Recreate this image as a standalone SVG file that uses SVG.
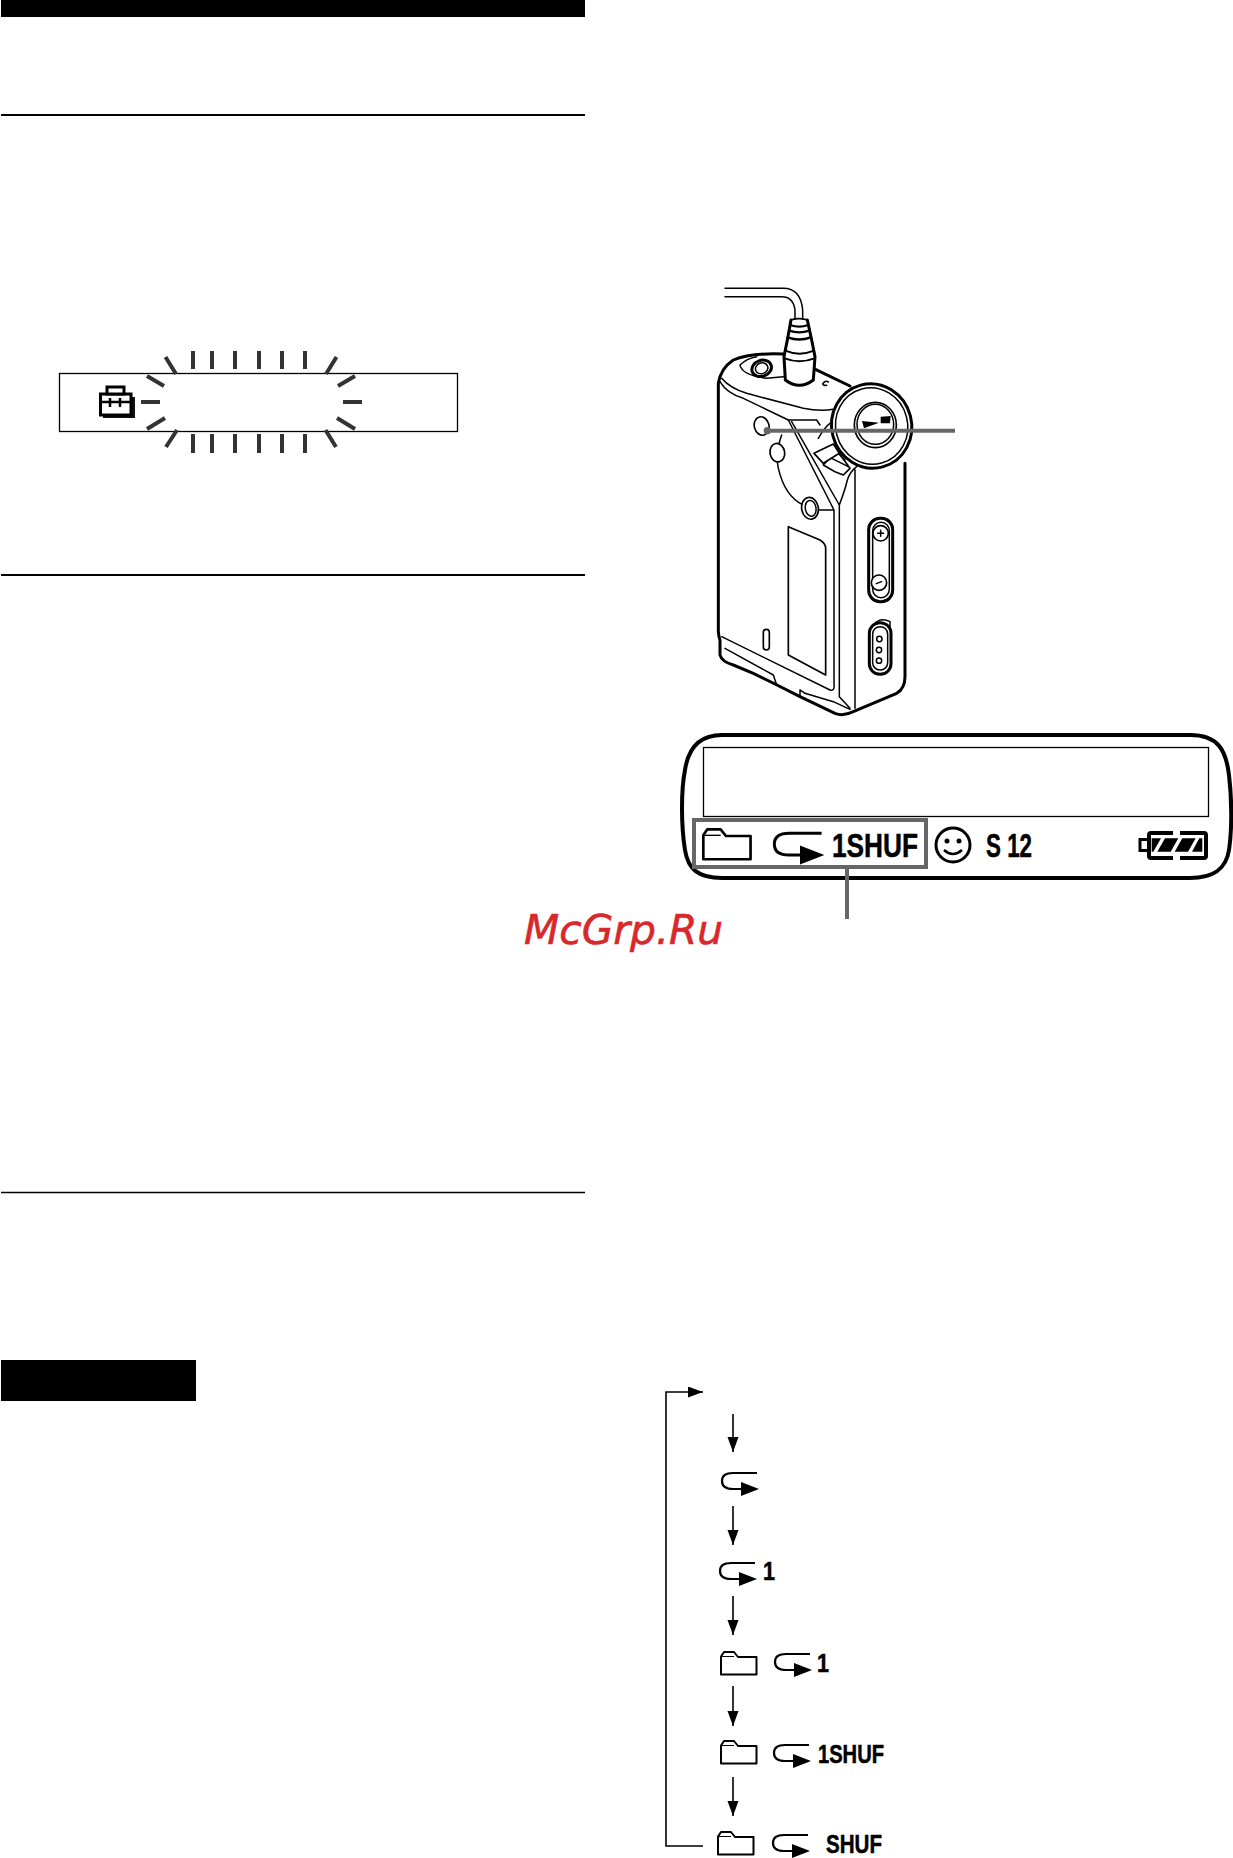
<svg xmlns="http://www.w3.org/2000/svg" xmlns:xlink="http://www.w3.org/1999/xlink" width="1233" height="1858" viewBox="0 0 1233 1858">
<style>
.bg{fill:#fff}
.k{fill:#000}
.thin{fill:none;stroke:#000;stroke-width:1.3}
.rule{stroke:#000;fill:none}
.tick{stroke:#333;stroke-width:4;fill:none}
.lead{stroke:#666;stroke-width:4;fill:none}
.d{fill:#fff;stroke:#000;stroke-width:5;stroke-linejoin:round;stroke-linecap:round}
.dl{fill:none;stroke:#000;stroke-width:4.500;stroke-linejoin:round;stroke-linecap:round}
.dh{fill:none;stroke:#000;stroke-width:9;stroke-linejoin:round;stroke-linecap:round}
.flow{fill:none;stroke:#000;stroke-width:1.6}
.t{font-family:"Liberation Sans",Arial,sans-serif;font-weight:700;fill:#000;stroke:#000;stroke-width:.5}
.wm{font-family:"DejaVu Sans",sans-serif;font-style:oblique;fill:#d8282c;stroke:#d8282c;stroke-width:.6;font-size:40.800px}
</style>
<defs>
<marker id="ah" markerUnits="userSpaceOnUse" markerWidth="16" markerHeight="12" refX="15" refY="5.500" orient="auto"><path d="M0 0L15 5.500L0 11Z" fill="#000"/></marker>
<g id="folder"><path d="M1 23.500V5.500L4 1H14L18 6H36.500V23.500Z" fill="#fff" stroke="#000" stroke-width="2" stroke-linejoin="round"/><path d="M1 5.500H14" fill="none" stroke="#000" stroke-width="1"/></g>
<g id="rep"><path d="M36 1H12Q1 1 1 9Q1 17 12 17H22" fill="none" stroke="#000" stroke-width="2.200"/><path d="M20 10L38 17L20 24Z" fill="#000"/></g>
</defs>
<rect class="bg" width="1233" height="1858"/>
<g id="page-rules">
<rect class="k" x="1" y="0" width="584" height="17"/>
<path class="rule" stroke-width="2" d="M1 115H585M1 575H585"/>
<path class="rule" stroke-width="1.300" d="M1 1192.500H585"/>
<rect class="k" x="1" y="1360" width="195" height="41"/>
</g>
<g id="toolbox-display">
<rect x="59.500" y="373.500" width="398" height="58" fill="#fff" stroke="#000" stroke-width="1.300"/>
<g id="toolbox-icon">
<rect x="103" y="397" width="32" height="21" fill="#111"/>
<rect x="100.500" y="394" width="30.500" height="21" fill="#fff" stroke="#000" stroke-width="3"/>
<rect x="107" y="387" width="17" height="7" fill="#fff" stroke="#000" stroke-width="3"/>
<path d="M100 402H131M110 398V407M120 398V407" fill="none" stroke="#000" stroke-width="2.500"/>
</g>
<path class="tick" d="M193 351V369M212 351V369M235 351V369M259 351V369M282 351V369M305 351V369M193 434V453M212 434V453M235 434V453M259 434V453M282 434V453M305 434V453M165.500 357L176 374M336.500 357L326 374M147 376L164 386M355 376L338 386M141 402H160M343 402H362M147 429L165 418M355 429L337 418M166 447L177 430M336 447L325.500 430"/>
</g>
<g id="player" transform="translate(680 260) scale(.33333)">
<path d="M115 370Q122 325 160 300Q210 278 310 282L400 325L510 378L675 620V1250Q675 1285 650 1300L520 1355Q490 1370 465 1360L360 1310L285 1270L220 1240L160 1215Q125 1205 120 1185L125 1130L115 1115Z" fill="#fff"/>
<path class="dh" d="M115 1115V370Q122 325 160 300Q210 278 310 282M400 325L510 378M675 610V1250Q675 1285 650 1300L520 1355Q490 1370 465 1360L360 1310L285 1272L220 1240L160 1215Q125 1205 120 1185V1140Q116 1130 115 1115"/>
<path class="dl" d="M125 355Q150 385 200 400L370 445Q420 455 460 448M120 365Q140 400 190 415L325 480H410L420 495"/>
<path class="dl" d="M180 315Q185 345 260 355L310 350M180 315Q200 295 230 290"/>
<ellipse class="dh" cx="245" cy="325" rx="30" ry="24" transform="rotate(-20 245 325)"/>
<ellipse class="dl" cx="245" cy="325" rx="19" ry="16" transform="rotate(-20 245 325)"/>
<path class="dl" d="M325 480L462 750M335 485L478 735Q495 690 502 660Q510 635 530 620M305 525Q285 580 295 625Q315 710 370 735M462 750H410M462 750V1270Q465 1295 450 1290L125 1130M478 735V1310L510 1345M525 630V1345M135 1165L280 1245L290 1275M360 1290V1310M360 1290L375 1300L460 1325L510 1348"/>
<ellipse class="d" cx="245" cy="498" rx="22" ry="28" transform="rotate(-15 245 498)"/>
<ellipse class="d" cx="292" cy="578" rx="22" ry="28" transform="rotate(-10 292 578)"/>
<ellipse class="d" cx="390" cy="745" rx="25" ry="33" transform="rotate(-10 390 745)"/>
<ellipse class="dl" cx="392" cy="745" rx="16" ry="24" transform="rotate(-10 392 745)"/>
<path class="d" d="M325 800L420 840Q437 850 437 865V1245L325 1185Z"/>
<rect class="d" x="250" y="1108" width="18" height="62" rx="9"/>
<rect class="dh" x="566" y="775" width="72" height="250" rx="34"/>
<rect class="dl" x="578" y="787" width="50" height="226" rx="25"/>
<circle class="d" cx="602" cy="820" r="23"/>
<circle class="d" cx="597" cy="968" r="23"/>
<path class="dl" d="M593 820H611M602 811V829M589 971L605 965"/>
<path class="dl" d="M580 1095Q600 1070 630 1085V1105"/>
<rect class="dh" x="568" y="1088" width="65" height="155" rx="32"/>
<rect class="dl" x="578" y="1100" width="45" height="130" rx="22"/>
<circle class="dl" cx="598" cy="1137" r="8"/>
<circle class="dl" cx="597" cy="1170" r="8"/>
<circle class="dl" cx="597" cy="1202" r="8"/>
<path class="dl" d="M415 535Q435 500 450 490"/>
<path class="d" d="M430 615L465 635L490 645L510 625L470 570Z"/>
<path class="dl" d="M455 595L505 620M470 575L495 600"/>
<path class="d" d="M402 580L460 552L478 580L430 610Z"/>
<path class="d" d="M333 180Q355 172 382 180L395 240L405 290L400 360Q358 392 316 360L312 290L322 240Z"/>
<path class="dh" d="M333 180L322 240L312 290L316 360Q358 392 400 360L405 290L395 240L382 180"/>
<path class="dh" d="M330 195Q358 205 385 195M327 212Q358 222 388 212M323 232Q358 245 392 232" style="stroke-width:7"/>
<path class="dl" d="M316 272Q358 290 402 272M314 295Q358 312 404 295" style="stroke-width:6"/>
<path class="dl" d="M368 178V150Q362 85 310 85H135M345 178V150Q340 110 305 110H135"/>
<path class="dl" d="M428 372Q435 360 445 366M428 372Q432 378 440 376"/>
<ellipse class="d" cx="575" cy="498" rx="120" ry="127" transform="rotate(-15 575 498)"/>
<ellipse class="dh" cx="575" cy="498" rx="120" ry="127" transform="rotate(-15 575 498)"/>
<ellipse class="dl" cx="575" cy="498" rx="108" ry="115" transform="rotate(-15 575 498)"/>
<ellipse class="dh" cx="586" cy="495" rx="63" ry="68" style="stroke-width:5"/>
<ellipse class="dl" cx="586" cy="493" rx="55" ry="60"/>
<path class="k" d="M546 483L597 488L552 505ZM602 470L632 468L630 490L602 490Z"/>
<circle cx="262" cy="512" r="11" fill="#666"/>
<path d="M262 512H825" fill="none" stroke="#666" stroke-width="12"/>
</g>
<g id="lcd">
<path d="M722 735H1190C1218 735 1226 750 1229 775C1232 800 1232 830 1229 850C1226 869 1214 878 1190 878H722C698 878 688 869 685 850C681 825 681 790 685 770C688 750 698 735 722 735Z" fill="#fff" stroke="#000" stroke-width="4"/>
<rect class="thin" x="703.500" y="747.500" width="505" height="69"/>
<use xlink:href="#folder" href="#folder" transform="translate(702 828) scale(1.330)"/>
<use xlink:href="#rep" href="#rep" transform="translate(773 832) scale(1.350)"/>
<text class="t" x="832" y="857" font-size="34" textLength="86" lengthAdjust="spacingAndGlyphs">1SHUF</text>
<rect class="lead" x="694" y="820" width="232" height="47"/>
<g id="smiley"><circle cx="953" cy="845" r="17" fill="none" stroke="#000" stroke-width="3"/><circle cx="947" cy="841" r="2.500"/><circle cx="959" cy="841" r="2.500"/><path d="M944 850Q953 858 962 850" fill="none" stroke="#000" stroke-width="2.500"/></g>
<text class="t" x="986" y="857" font-size="33" textLength="46" lengthAdjust="spacingAndGlyphs">S 12</text>
<g id="battery">
<path d="M1147 839.500H1140V850.500H1147" fill="none" stroke="#000" stroke-width="3"/>
<path d="M1173 833H1151Q1149 833 1149 835V856Q1149 858 1151 858H1173M1180 833H1204Q1206 833 1206 835V856Q1206 858 1204 858H1180" fill="none" stroke="#000" stroke-width="4"/>
<path class="k" d="M1151.700 838.300H1161L1153.300 851.700H1151.700ZM1165 838.300H1178.300L1170.700 851.700H1157.300ZM1182.300 838.300H1195.700L1188 851.700H1174.700ZM1199.300 838.300H1202.300V851.700H1192Z"/>
</g>
</g>
<g id="lcd-lead"><path class="lead" d="M847 867V919"/></g>
<text id="watermark" class="wm" x="524" y="944">McGrp.Ru</text>
<g id="connectors">
<path class="flow" marker-end="url(#ah)" d="M703 1846H666V1392H703"/>
<path class="flow" marker-end="url(#ah)" d="M733 1414V1452"/>
<path class="flow" marker-end="url(#ah)" d="M733 1506V1545"/>
<path class="flow" marker-end="url(#ah)" d="M733 1596V1635"/>
<path class="flow" marker-end="url(#ah)" d="M733 1686V1726"/>
<path class="flow" marker-end="url(#ah)" d="M733 1777V1816"/>
</g>
<g id="mode-repeat"><use xlink:href="#rep" href="#rep" x="721" y="1472"/></g>
<g id="mode-repeat1"><use xlink:href="#rep" href="#rep" x="719" y="1562"/><text class="t" x="763" y="1580" font-size="25" textLength="12" lengthAdjust="spacingAndGlyphs">1</text></g>
<g id="mode-folder1"><use xlink:href="#folder" href="#folder" x="720" y="1651"/><use xlink:href="#rep" href="#rep" x="774" y="1653"/><text class="t" x="817" y="1672" font-size="25" textLength="12" lengthAdjust="spacingAndGlyphs">1</text></g>
<g id="mode-folder1shuf"><use xlink:href="#folder" href="#folder" x="720" y="1740"/><use xlink:href="#rep" href="#rep" x="773" y="1744"/><text class="t" x="818" y="1763" font-size="26" textLength="66" lengthAdjust="spacingAndGlyphs">1SHUF</text></g>
<g id="mode-foldershuf"><use xlink:href="#folder" href="#folder" x="717" y="1831"/><use xlink:href="#rep" href="#rep" x="772" y="1834"/><text class="t" x="826" y="1853" font-size="26" textLength="56" lengthAdjust="spacingAndGlyphs">SHUF</text></g>
</svg>
